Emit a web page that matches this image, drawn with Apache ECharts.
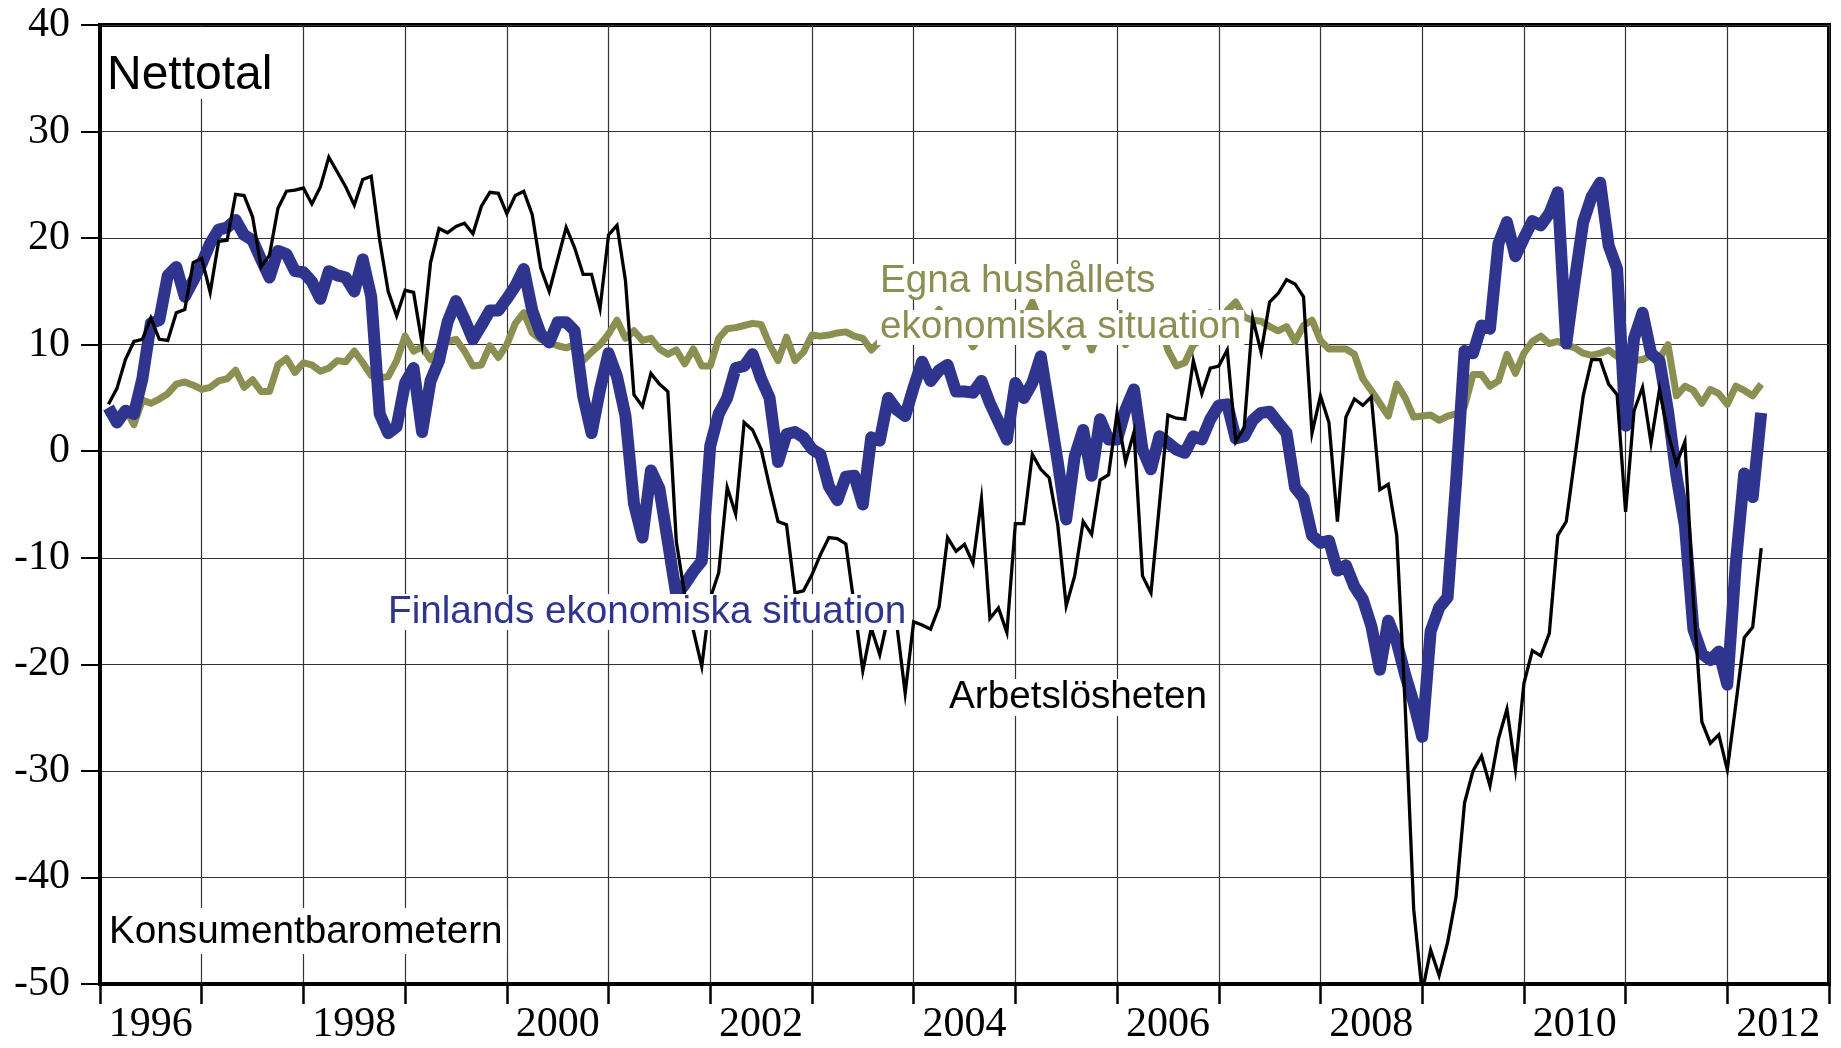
<!DOCTYPE html>
<html>
<head>
<meta charset="utf-8">
<script src="https://cdn.jsdelivr.net/npm/echarts@6/dist/echarts.min.js"></script>
<style>
html,body{margin:0;padding:0;background:#fff;}
#chart{width:1841px;height:1048px;}
</style>
</head>
<body>
<div id="chart"></div>
<script>
// Year categories (x axis), labels shown every second year
const years = ['1996','1997','1998','1999','2000','2001','2002','2003','2004','2005','2006','2007','2008','2009','2010','2011','2012'];
const yTicks = { min: -50, max: 40, step: 10 };

// Monthly net totals, Jan 1996 .. Apr 2012 (196 months)
const finlandEconomy = [
 4.1, 2.7, 3.8, 3.5, 6.8, 12.0, 12.3, 16.5, 17.3, 14.5,
 16.0, 17.6, 19.5, 20.8, 21.0, 21.7, 20.3, 19.8, 18.0, 16.3,
 18.8, 18.5, 16.9, 16.8, 15.9, 14.3, 16.9, 16.5, 16.3, 15.0,
 18.0, 14.5, 3.5, 1.7, 2.3, 6.4, 7.8, 1.8, 6.6, 8.5,
 12.1, 14.1, 12.4, 10.5, 11.8, 13.2, 13.2, 14.3, 15.5, 17.1,
 13.2, 11.0, 10.2, 12.1, 12.1, 11.3, 5.2, 1.7, 5.8, 9.2,
 7.0, 3.3, -4.9, -8.1, -1.8, -3.5, -8.5, -13.5, -12.5, -11.3,
 -10.3, 0.5, 3.5, 5.0, 7.8, 8.0, 9.1, 6.8, 5.0, -1.0,
 1.6, 1.8, 1.3, 0.2, -0.3, -3.3, -4.6, -2.4, -2.3, -5.0,
 1.3, 1.0, 5.0, 3.9, 3.3, 6.0, 8.4, 6.6, 7.6, 8.1,
 5.6, 5.6, 5.5, 6.6, 4.5, 2.8, 1.1, 6.4, 5.0, 6.4,
 8.9, 4.0, -1.0, -6.4, -0.5, 2.0, -2.3, 3.0, 1.1, 1.1,
 3.9, 5.8, 0.15, -1.7, 1.4, 0.8, 0.15, -0.15, 1.4, 1.1,
 3.0, 4.3, 4.4, 1.2, 1.4, 2.9, 3.6, 3.7, 2.7, 1.7,
 -3.4, -4.4, -7.9, -8.6, -8.4, -11.2, -10.7, -12.7, -13.9, -16.4,
 -20.5, -15.9, -17.9, -21.0, -23.6, -26.8, -16.9, -14.7, -13.7, -2.9,
 9.4, 9.2, 11.8, 11.5, 19.5, 21.5, 18.3, 20.0, 21.6, 21.2,
 22.3, 24.3, 10.1, 16.0, 21.5, 23.9, 25.2, 19.3, 17.1, 2.4,
 10.6, 13.0, 9.2, 8.5, 3.8, -2.3, -7.0, -16.7, -19.0, -19.6,
 -18.8, -21.9, -10.6, -2.1, -4.3, 3.6
];
const householdEconomy = [
 3.8, 2.6, 4.0, 2.5, 4.8, 4.5, 4.9, 5.4, 6.3, 6.5,
 6.2, 5.8, 6.0, 6.6, 6.8, 7.6, 6.0, 6.7, 5.6, 5.6,
 8.1, 8.7, 7.4, 8.3, 8.1, 7.5, 7.8, 8.5, 8.4, 9.4,
 8.3, 7.1, 6.9, 7.0, 8.5, 10.8, 9.4, 9.8, 8.6, 9.6,
 10.3, 10.5, 9.4, 8.0, 8.1, 9.9, 8.8, 10.0, 12.0, 13.0,
 11.1, 10.5, 10.2, 9.9, 9.7, 10.0, 8.5, 9.3, 10.0, 11.0,
 12.3, 10.6, 11.3, 10.4, 10.6, 9.6, 9.1, 9.5, 8.2, 9.6,
 8.0, 8.0, 10.6, 11.5, 11.6, 11.8, 12.0, 11.9, 10.0, 8.5,
 10.7, 8.5, 9.3, 10.9, 10.8, 10.9, 11.1, 11.2, 10.8, 10.6,
 9.5, 10.3, 11.0, 11.2, 10.8, 11.5, 12.0, 12.2, 13.3, 12.0,
 11.5, 11.0, 9.8, 11.0, 11.8, 12.3, 12.0, 12.5, 12.3, 14.0,
 12.0, 11.5, 11.8, 9.8, 11.5, 11.6, 9.5, 11.5, 11.8, 12.0,
 10.0, 11.5, 12.0, 12.5, 12.2, 9.5, 8.0, 8.3, 10.0, 10.5,
 13.0, 11.7, 13.2, 14.0, 12.6, 12.3, 12.2, 11.7, 11.3, 11.7,
 10.3, 11.8, 12.3, 10.4, 9.6, 9.6, 9.6, 9.1, 6.8, 5.7,
 4.5, 3.3, 6.3, 5.0, 3.2, 3.3, 3.4, 2.9, 3.3, 3.5,
 4.2, 7.2, 7.2, 6.1, 6.6, 9.1, 7.3, 9.2, 10.3, 10.8,
 10.1, 10.3, 10.0, 9.7, 9.2, 9.0, 9.2, 9.5, 8.9, 8.3,
 8.5, 8.6, 9.0, 8.7, 10.0, 5.2, 6.1, 5.7, 4.5, 5.8,
 5.4, 4.4, 6.1, 5.7, 5.2, 6.3
];
const unemployment = [
 4.4, 5.9, 8.6, 10.3, 10.5, 12.5, 10.5, 10.4, 13.0, 13.3,
 17.7, 18.1, 14.9, 19.7, 19.8, 24.1, 24.0, 22.0, 17.3, 18.4,
 22.8, 24.4, 24.5, 24.7, 23.2, 24.8, 27.6, 26.2, 24.8, 23.1,
 25.5, 25.8, 19.8, 15.0, 12.7, 15.1, 14.9, 10.1, 17.7, 20.9,
 20.5, 21.1, 21.4, 20.4, 23.0, 24.3, 24.2, 22.3, 24.0, 24.4,
 22.2, 17.2, 15.0, 18.0, 21.0, 19.1, 16.6, 16.6, 13.4, 20.3,
 21.2, 16.0, 5.3, 4.2, 7.3, 6.3, 5.6, -8.5, -13.5, -16.8,
 -20.2, -13.8, -11.4, -3.4, -5.9, 2.7, 2.0, 0.2, -3.3, -6.6,
 -6.9, -13.3, -13.1, -11.6, -9.7, -8.1, -8.2, -8.7, -14.5, -20.6,
 -16.6, -19.1, -15.5, -16.2, -22.7, -16.0, -16.3, -16.7, -14.6, -8.1,
 -9.4, -8.75, -10.5, -4.5, -15.7, -14.7, -17.0, -6.8, -6.8, -0.3,
 -1.7, -2.5, -6.9, -14.5, -11.7, -6.6, -7.8, -2.7, -2.2, 3.6,
 -1.0, 1.8, -11.7, -13.3, -5.0, 3.4, 3.1, 3.0, 8.5, 5.4,
 7.8, 8.0, 9.5, 0.9, 2.2, 12.5, 9.3, 14.0, 14.8, 16.1,
 15.7, 14.5, 1.7, 5.2, 2.7, -6.6, 3.2, 4.9, 4.3, 5.1,
 -3.6, -3.1, -7.9, -24.0, -43.0, -50.8, -46.8, -49.2, -46.1, -41.8,
 -33.0, -30.0, -28.6, -31.4, -27.0, -24.2, -29.8, -21.8, -18.7, -19.2,
 -17.1, -7.9, -6.6, -0.7, 5.2, 8.6, 8.6, 6.3, 5.3, -5.7,
 3.8, 6.0, 0.8, 5.8, 1.7, -1.2, 0.9, -14.0, -25.4, -27.4,
 -26.6, -29.9, -23.8, -17.5, -16.5, -9.1
];

const toMonthly = arr => arr.map((v, i) => [i + 1, v]);

const SANS = '"Liberation Sans", Arial, sans-serif';
const SERIF = '"Liberation Serif", "Times New Roman", serif';
const BLUE = '#2F358F';
const GREEN = '#8B9052';

const chart = echarts.init(document.getElementById('chart'));
chart.setOption({
  animation: false,
  backgroundColor: '#fff',
  grid: { left: 100, right: 12, top: 25, bottom: 64, show: true, borderColor: '#000', borderWidth: 4, backgroundColor: 'transparent' },
  xAxis: [
    {
      type: 'category', data: years, boundaryGap: true, position: 'bottom',
      axisLine: { show: true, onZero: false, lineStyle: { color: '#000', width: 4 } },
      axisTick: { show: true, interval: 0, length: 20, lineStyle: { color: '#000', width: 2.5 } },
      axisLabel: { interval: 1, fontFamily: SERIF, fontSize: 42, color: '#000', margin: 20 },
      splitLine: { show: true, interval: 0, lineStyle: { color: '#333', width: 1.2 } }
    },
    { type: 'value', min: 0, max: years.length * 12, show: false }
  ],
  yAxis: {
    type: 'value', min: yTicks.min, max: yTicks.max, interval: yTicks.step,
    axisLine: { show: true, onZero: false, lineStyle: { color: '#000', width: 4 } },
    axisTick: { show: true, length: 19, lineStyle: { color: '#000', width: 2 } },
    axisLabel: { fontFamily: SERIF, fontSize: 42, color: '#000', margin: 30 },
    splitLine: { show: true, lineStyle: { color: '#333', width: 1.2 } }
  },
  series: [
    { name: 'Egna hushållets ekonomiska situation', type: 'line', xAxisIndex: 1, data: toMonthly(householdEconomy),
      showSymbol: false, symbol: 'none', z: 2,
      lineStyle: { color: GREEN, width: 7, join: 'round', cap: 'butt' } },
    { name: 'Finlands ekonomiska situation', type: 'line', xAxisIndex: 1, data: toMonthly(finlandEconomy),
      showSymbol: false, symbol: 'none', z: 3,
      lineStyle: { color: BLUE, width: 12, join: 'round', cap: 'butt' } },
    { name: 'Arbetslösheten', type: 'line', xAxisIndex: 1, data: toMonthly(unemployment),
      showSymbol: false, symbol: 'none', z: 4,
      lineStyle: { color: '#000', width: 3.3, join: 'miter', cap: 'butt' } }
  ],
  graphic: {
    z: 100,
    elements: [
      { type: 'text', x: 102, y: 27, z: 100,
        style: { text: 'Nettotal', font: '48px ' + SANS, fill: '#000', backgroundColor: '#fff',
                 padding: [26, 8, 0, 5], lineHeight: 46, verticalAlign: 'top', align: 'left' } },
      { type: 'text', x: 105, y: 908, z: 100,
        style: { text: 'Konsumentbarometern', font: '38.7px ' + SANS, fill: '#000', backgroundColor: '#fff',
                 padding: [2, 4, 0, 4], lineHeight: 44, verticalAlign: 'top', align: 'left' } },
      { type: 'text', x: 385, y: 594, z: 100,
        style: { text: 'Finlands ekonomiska situation', font: '38.7px ' + SANS, fill: BLUE, backgroundColor: '#fff',
                 padding: [0, 3, 0, 3], lineHeight: 36, verticalAlign: 'top', align: 'left' } },
      { type: 'text', x: 946, y: 679, z: 100,
        style: { text: 'Arbetslösheten', font: '38.7px ' + SANS, fill: '#000', backgroundColor: '#fff',
                 padding: [0, 3, 0, 3], lineHeight: 37, verticalAlign: 'top', align: 'left' } },
      { type: 'text', x: 877, y: 264, z: 100,
        style: { text: 'Egna hushållets', font: '38.7px ' + SANS, fill: GREEN, backgroundColor: '#fff',
                 padding: [0, 3, 0, 3], lineHeight: 35, verticalAlign: 'top', align: 'left' } },
      { type: 'text', x: 877, y: 310, z: 100,
        style: { text: 'ekonomiska situation', font: '38.7px ' + SANS, fill: GREEN, backgroundColor: '#fff',
                 padding: [0, 3, 0, 3], lineHeight: 35, verticalAlign: 'top', align: 'left' } }
    ]
  }
});
</script>
</body>
</html>
